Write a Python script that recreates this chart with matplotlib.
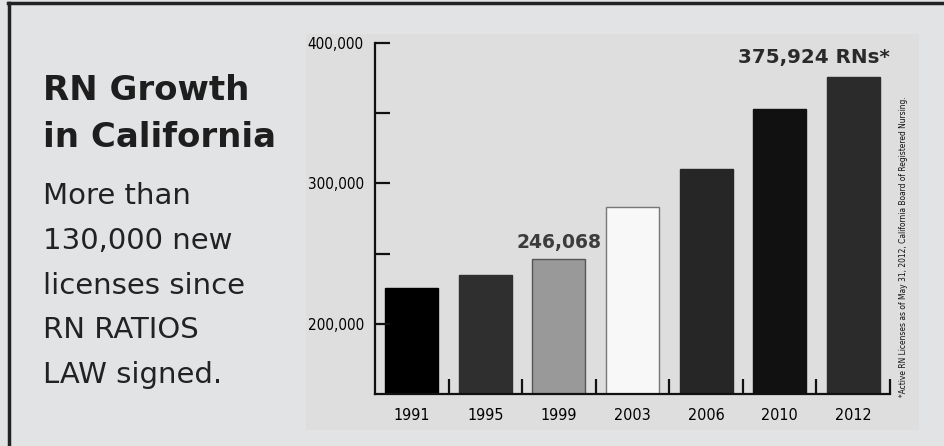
import numpy as np
import matplotlib.pyplot as plt
from matplotlib.patches import Rectangle
from matplotlib.lines import Line2D

# data
years = ['1991', '1995', '1999', '2003', '2006', '2010', '2012']
rns = [225200, 234500, 246068, 283000, 310500, 352900, 375924]
bar_colors = ['#000000', '#2f2f2f', '#999999', '#f8f8f8', '#262626', '#111111', '#2b2b2b']
edge_colors = ['#000000', '#2f2f2f', '#555555', '#777777', '#262626', '#111111', '#2b2b2b']
major_ticks = [200000, 300000, 400000]
minor_ticks = [250000, 350000]

W, H = 944, 446
fig = plt.figure(figsize=(W / 100, H / 100), dpi=100)
fig.patch.set_facecolor('#e2e3e5')

def fx(px):
    return px / W

def fy(py):
    return 1 - py / H

# frame on top and left
fig.add_artist(Line2D([fx(8), 1], [fy(3), fy(3)], color='#222222', lw=2.5))
fig.add_artist(Line2D([fx(9), fx(9)], [fy(3), 0], color='#222222', lw=2.5))

# lighter panel behind the chart
fig.add_artist(Rectangle((fx(306), fy(430)), fx(919) - fx(306), fy(34) - fy(430),
                         facecolor='#dedede', edgecolor='none', zorder=0))

# left text block
wide = ['DejaVu Sans']
fig.text(fx(43), fy(100), 'RN Growth', fontsize=24.5, fontweight='bold',
         family=wide, color='#1e1e1e', va='baseline')
fig.text(fx(43), fy(147), 'in California', fontsize=24.5, fontweight='bold',
         family=wide, color='#1e1e1e', va='baseline')
body = ['More than', '130,000 new', 'licenses since', 'RN RATIOS', 'LAW signed.']
for i, line in enumerate(body):
    fig.text(fx(43), fy(204 + 44.8 * i), line, fontsize=21, family=wide,
             color='#222222', va='baseline')

# chart
narrow = ['DejaVu Sans']
ax = fig.add_axes([fx(375), fy(394), fx(890) - fx(375), fy(43) - fy(394)])
ax.patch.set_alpha(0)
x = np.arange(len(years))
ax.bar(x, rns, width=0.72, color=bar_colors, edgecolor=edge_colors, linewidth=1)
ax.set_xlim(-0.5, len(years) - 0.5)
ax.set_ylim(150000, 400000)

for s in ['top', 'right']:
    ax.spines[s].set_visible(False)
for s in ['left', 'bottom']:
    ax.spines[s].set_linewidth(1.6)
    ax.spines[s].set_color('#111111')

ax.set_yticks(major_ticks)
ax.set_yticks(minor_ticks, minor=True)
ax.set_yticklabels([f'{v:,}' for v in major_ticks], family=narrow, fontsize=11,
                   fontstretch='condensed')
ax.tick_params(axis='y', which='both', direction='in', length=11, width=1.6,
               color='#111111', pad=8)

ax.set_xticks(x)
ax.set_xticklabels(years, family=narrow, fontsize=11.5, fontstretch='condensed')
ax.tick_params(axis='x', which='major', length=0, pad=10)
ax.set_xticks(list(x + 0.5), minor=True)
ax.tick_params(axis='x', which='minor', direction='in', length=11, width=1.6, color='#111111')

ax.text(2, rns[2] + 5000, f'{rns[2]:,}', ha='center', va='bottom', fontsize=13.5,
        fontweight='bold', family=wide, color='#3c3c3c')
ax.text(6.5, rns[6] + 7000, f'{rns[6]:,} RNs*', ha='right', va='bottom', fontsize=14.3,
        fontweight='bold', family=wide, color='#2a2a2a')

fig.text(fx(903), fy(397), '*Active RN Licenses as of May 31, 2012, California Board of Registered Nursing.',
         rotation=90, ha='center', va='bottom', fontsize=6.0, family=narrow,
         fontstretch='condensed', color='#111111')

fig.savefig('out.png', dpi=100, facecolor=fig.get_facecolor())
